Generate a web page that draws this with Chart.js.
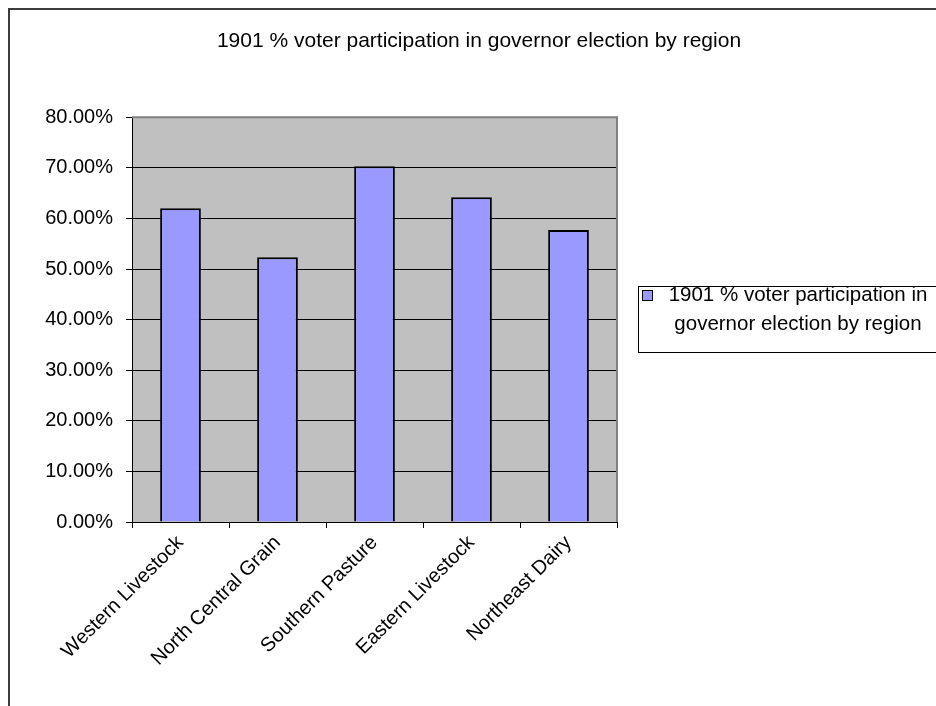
<!DOCTYPE html>
<html>
<head>
<meta charset="utf-8">
<script src="https://cdn.jsdelivr.net/npm/chart.js"></script>
<style>
html, body { margin: 0; padding: 0; background: #fff; width: 936px; height: 706px; overflow: hidden; }
#frame { position: absolute; left: 8px; top: 8px; width: 980px; height: 740px; border-top: 2px solid #3c3c3c; border-left: 2px solid #3c3c3c; }
#wrap { position: absolute; left: 10px; top: 10px; width: 938px; height: 700px; }
#legend { position: absolute; left: 638px; top: 286px; width: 330px; height: 67px; border: 1px solid #000; box-sizing: border-box; background: #fff; }
#swatch { position: absolute; left: 3px; top: 3px; width: 11px; height: 11px; border: 1px solid #000; box-sizing: border-box; }
#legtext { position: absolute; left: 14px; top: -7px; width: 290px; text-align: center; font: 20.5px "Liberation Sans", Arial, sans-serif; line-height: 28.5px; color: #000; }
</style>
</head>
<body>
<div id="frame"></div>
<div id="wrap"><canvas id="chart"></canvas></div>
<div id="legend"><span id="swatch"></span><div id="legtext"></div></div>
<script>
const regions = ["Western Livestock", "North Central Grain", "Southern Pasture", "Eastern Livestock", "Northeast Dairy"];
const participation = [62.0, 52.3, 70.3, 64.2, 57.7];
const seriesName = "1901 % voter participation in governor election by region";

const FONT = "'Liberation Sans', Arial, sans-serif";
const barColor = "#9999FF";

// grey plot area and its grey top/right edge, like Excel
const plotBg = {
    id: "plotBg",
    beforeDraw(chart) {
        const a = chart.chartArea, ctx = chart.ctx;
        ctx.save();
        ctx.fillStyle = "#C0C0C0";
        ctx.fillRect(a.left, a.top, a.right - a.left, a.bottom - a.top);
        ctx.restore();
    },
    beforeDatasetsDraw(chart) {
        const a = chart.chartArea, ctx = chart.ctx;
        ctx.save();
        ctx.strokeStyle = "#808080";
        ctx.lineWidth = 2;
        ctx.beginPath();
        ctx.moveTo(a.left, a.top);
        ctx.lineTo(a.right, a.top);
        ctx.lineTo(a.right, a.bottom);
        ctx.stroke();
        ctx.restore();
    }
};

new Chart(document.getElementById("chart"), {
    type: 'bar',
    data: {
        labels: regions,
        datasets: [{
            label: seriesName,
            data: participation,
            backgroundColor: barColor,
            borderColor: "#000",
            borderWidth: 2,
            barPercentage: 0.42,
            categoryPercentage: 1
        }]
    },
    options: {
        responsive: true,
        maintainAspectRatio: false,
        animation: false,
        plugins: {
            legend: { display: false },
            tooltip: { enabled: false },
            title: {
                display: true,
                text: seriesName,
                color: "#000",
                font: { family: FONT, size: 21, weight: 'normal' },
                padding: { top: 19, bottom: 63 }
            }
        },
        scales: {
            y: {
                min: 0,
                max: 80,
                afterFit: s => { s.width = 122; },
                ticks: {
                    stepSize: 10,
                    color: "#000",
                    padding: 13,
                    font: { family: FONT, size: 20 },
                    callback: v => v.toFixed(2) + "%"
                },
                grid: { color: "#000", lineWidth: 1, tickLength: 6 },
                border: { color: "#000", width: 1 }
            },
            // empty axis that only keeps the space for the legend on the right
            pad: {
                type: 'linear',
                position: 'right',
                afterFit: s => { s.width = 331; },
                ticks: { display: false },
                grid: { display: false },
                border: { display: false }
            },
            x: {
                afterFit: s => { s.height = 188; },
                ticks: {
                    color: "#000",
                    minRotation: 45,
                    maxRotation: 45,
                    font: { family: FONT, size: 20 }
                },
                grid: { offset: true, drawOnChartArea: false, color: "#000", tickLength: 6 },
                border: { color: "#000", width: 1 }
            }
        }
    },
    plugins: [plotBg]
});

document.getElementById("swatch").style.background = barColor;
document.getElementById("legtext").innerHTML = "1901 % voter participation in<br>governor election by region";
</script>
</body>
</html>
